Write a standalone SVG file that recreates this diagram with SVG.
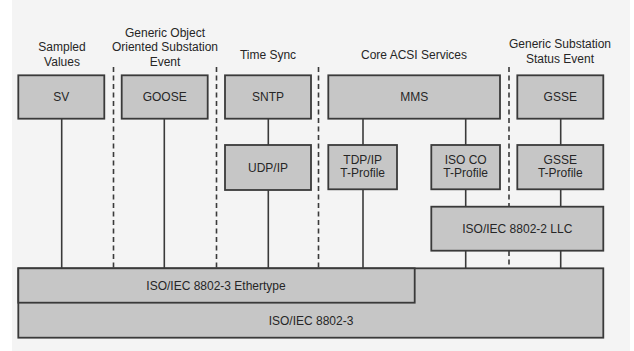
<svg xmlns="http://www.w3.org/2000/svg" width="634" height="351" viewBox="0 0 634 351">
<style>
.box{fill:#c6c6c6;stroke:#3a3a3a;stroke-width:1.8}
.t{font-family:"Liberation Sans",Arial,sans-serif;font-size:12px;fill:#262626;text-anchor:middle}
.ln{stroke:#3a3a3a;stroke-width:1.6;fill:none}
.dash{stroke:#3a3a3a;stroke-width:1.6;stroke-dasharray:5 3.5;fill:none}
</style>
<rect width="634" height="351" fill="#ffffff"/>
<rect x="12" y="0" width="618" height="351" fill="#f4f4f4"/>
<g id="headings">
<text class="t" x="62" y="51">Sampled</text>
<text class="t" x="62" y="65.5">Values</text>
<text class="t" x="165" y="37">Generic Object</text>
<text class="t" x="165" y="51">Oriented Substation</text>
<text class="t" x="165" y="65.5">Event</text>
<text class="t" x="268" y="58.5">Time Sync</text>
<text class="t" x="414" y="58.5">Core ACSI Services</text>
<text class="t" x="560" y="48">Generic Substation</text>
<text class="t" x="560" y="62.5">Status Event</text>
</g>
<g id="connectors">
<line class="dash" x1="113.5" y1="67" x2="113.5" y2="268"/>
<line class="dash" x1="216.5" y1="67" x2="216.5" y2="268"/>
<line class="dash" x1="318.5" y1="67" x2="318.5" y2="268"/>
<line class="dash" x1="509" y1="67" x2="509" y2="206.5"/>
<line class="dash" x1="509" y1="251" x2="509" y2="268"/>
<line class="ln" x1="61.7" y1="118.7" x2="61.7" y2="268.3"/>
<line class="ln" x1="164.3" y1="118.7" x2="164.3" y2="268.3"/>
<line class="ln" x1="268.3" y1="118.7" x2="268.3" y2="145"/>
<line class="ln" x1="268.3" y1="190" x2="268.3" y2="268.3"/>
<line class="ln" x1="363" y1="118.7" x2="363" y2="145"/>
<line class="ln" x1="363" y1="189.3" x2="363" y2="268.3"/>
<line class="ln" x1="465.7" y1="118.7" x2="465.7" y2="145"/>
<line class="ln" x1="465.7" y1="189.3" x2="465.7" y2="206.7"/>
<line class="ln" x1="465.7" y1="250.7" x2="465.7" y2="268.3"/>
<line class="ln" x1="560.7" y1="118.7" x2="560.7" y2="145"/>
<line class="ln" x1="560.7" y1="189.3" x2="560.7" y2="206.7"/>
<line class="ln" x1="560.7" y1="250.7" x2="560.7" y2="268.3"/>
</g>
<g id="sv"><rect class="box" x="18.3" y="75.3" width="86" height="43.4"/><text class="t" x="61.3" y="101.3">SV</text></g>
<g id="goose"><rect class="box" x="121.7" y="75.3" width="86" height="43.4"/><text class="t" x="164.7" y="101.3">GOOSE</text></g>
<g id="sntp"><rect class="box" x="225" y="75.3" width="86" height="43.4"/><text class="t" x="268" y="101.3">SNTP</text></g>
<g id="udpip"><rect class="box" x="225" y="145" width="86" height="45"/><text class="t" x="268" y="171.8">UDP/IP</text></g>
<g id="mms"><rect class="box" x="328.3" y="75.3" width="171.7" height="43.4"/><text class="t" x="414.2" y="101.3">MMS</text></g>
<g id="gsse"><rect class="box" x="517.3" y="75.3" width="86" height="43.4"/><text class="t" x="560.3" y="101.3">GSSE</text></g>
<g id="tdpip"><rect class="box" x="328.3" y="145" width="68.7" height="44.3"/><text class="t" x="362.7" y="163.8">TDP/IP</text><text class="t" x="362.7" y="177">T-Profile</text></g>
<g id="isoco"><rect class="box" x="431.3" y="145" width="68.7" height="44.3"/><text class="t" x="465.7" y="163.8">ISO CO</text><text class="t" x="465.7" y="177">T-Profile</text></g>
<g id="gssetp"><rect class="box" x="517.3" y="145" width="86" height="44.3"/><text class="t" x="560.3" y="163.8">GSSE</text><text class="t" x="560.3" y="177">T-Profile</text></g>
<g id="llc"><rect class="box" x="431.3" y="206.7" width="172" height="44"/><text class="t" x="517.3" y="233">ISO/IEC 8802-2 LLC</text></g>
<g id="ieee8023"><rect class="box" x="18.3" y="268.3" width="585" height="69.4"/><text class="t" x="311" y="324.5">ISO/IEC 8802-3</text></g>
<g id="ethertype"><rect class="box" x="18.3" y="268.3" width="396.4" height="34.4"/><text class="t" x="216" y="289.8">ISO/IEC 8802-3 Ethertype</text></g>
</svg>
